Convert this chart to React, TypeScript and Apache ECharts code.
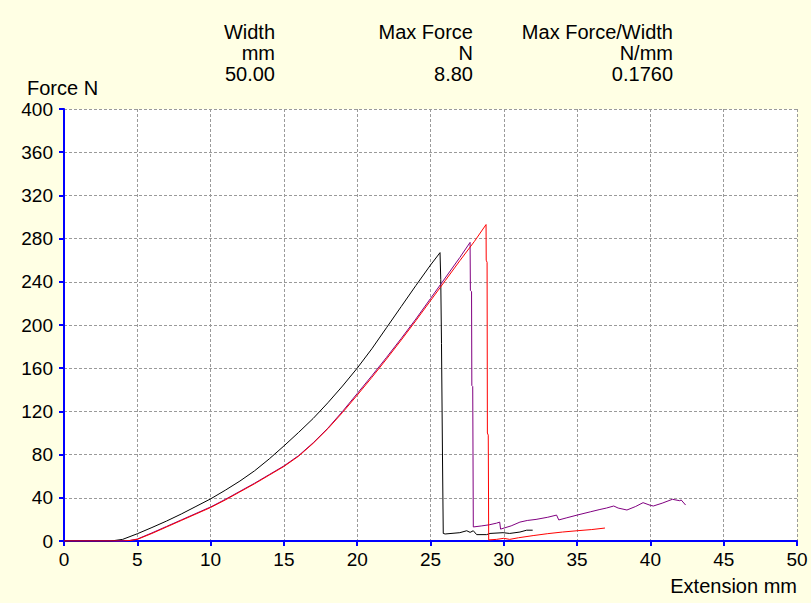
import React, { useEffect, useRef } from "react";
import * as echarts from "echarts";

// Header table
const headerTitles = ["Width", "Max Force", "Max Force/Width"];
const headerUnits = ["mm", "N", "N/mm"];
const headerValues = ["50.00", "8.80", "0.1760"];

// Axis settings
const xTickMin = 0;
const xTickMax = 50;
const xTickStep = 5;
const yTickMin = 0;
const yTickMax = 400;
const yTickStep = 40;

// Specimen curves [extension mm, force N]
const specimenBlack: [number, number][] = [
  [0, 0], [3.2, 0], [4, 1.5], [5, 6.7], [6, 12.5], [7, 18.5], [8, 25], [9, 32],
  [10, 39], [11, 47], [12, 55.5], [13, 65], [14, 76], [15, 88], [16, 100.5],
  [17, 113.5], [18, 128], [19, 143.5], [20, 160], [21, 178], [22, 197.5],
  [23, 217], [24, 236.5], [25, 255.5], [25.65, 267], [25.7, 242], [25.75, 183],
  [25.82, 75], [25.87, 7], [26.0, 6.5], [27.0, 7.7], [27.47, 9.5], [27.7, 8],
  [27.92, 9.5], [28.15, 5.9], [28.83, 5.9], [29.06, 7], [29.95, 7.7], [30.4, 7],
  [31.1, 8.3], [31.56, 10], [31.97, 10],
];

const specimenPurple: [number, number][] = [
  [0, 0], [4, 0], [4.5, 0.5], [5, 1.8], [6, 7.5], [7, 13.5], [8, 19.5], [9, 25.5],
  [10, 31.5], [11, 38.5], [12, 46], [13, 53.5], [14, 61.5], [15, 69.5], [16, 79],
  [17, 91], [18, 104.5], [19, 120], [20, 136.5], [21, 153], [22, 170], [23, 187.5],
  [24, 205.5], [25, 224.5], [26, 243.5], [27, 262.5], [27.7, 276.5], [27.72, 232],
  [27.8, 231], [27.82, 144], [27.88, 143], [27.92, 13], [28.5, 14], [29, 15],
  [29.5, 16.5], [29.72, 17.5], [29.78, 11], [30.5, 14], [31.1, 17.5], [31.6, 19],
  [32.2, 20], [33, 22], [33.6, 24], [33.75, 19.5], [34.3, 21.5], [35, 24],
  [35.9, 27], [36.5, 29], [37, 30.5], [37.5, 32.4], [37.8, 30.5], [38.4, 28.7],
  [39, 32], [39.5, 35.5], [40, 33], [40.2, 32.4], [40.8, 35], [41.5, 38.6],
  [42, 37.3], [42.1, 38], [42.4, 33.3],
];

const specimenRed: [number, number][] = [
  [0, 0], [4, 0], [4.5, 0.5], [5, 1.5], [6, 7], [7, 13], [8, 19], [9, 25],
  [10, 31], [11, 38], [12, 45.5], [13, 53], [14, 61], [15, 69], [16, 78.5],
  [17, 90.5], [18, 104], [19, 119], [20, 135], [21, 151.5], [22, 168.5],
  [23, 186], [24, 204], [25, 222.5], [26, 241], [27, 259.5], [28, 277.5],
  [28.79, 293], [28.8, 260], [28.86, 258], [28.88, 100], [28.94, 98],
  [28.97, 1], [29.5, 1.5], [30, 2.5], [30.4, 1.5], [31, 3], [32, 5], [33, 6.8],
  [34, 8.3], [35, 9.5], [36, 10.6], [36.9, 12],
];

const FONT = "'Liberation Sans', Arial, sans-serif";

export default function App() {
  const ref = useRef<HTMLDivElement>(null);

  useEffect(() => {
    document.body.style.margin = "0";
    const chart = echarts.init(ref.current!, undefined, { renderer: "svg" });

    const headerRight = [275, 473, 673];
    const headerRows = [headerTitles, headerUnits, headerValues];
    const headerY = [32, 53, 74];
    const graphics: any[] = [];
    headerRows.forEach((row, ri) => {
      row.forEach((t, ci) => {
        graphics.push({
          type: "text",
          x: headerRight[ci],
          y: headerY[ri],
          style: {
            text: t,
            fill: "#000",
            font: `20px ${FONT}`,
            textAlign: "right",
            textVerticalAlign: "middle",
          },
        });
      });
    });
    graphics.push({
      type: "text",
      x: 27,
      y: 88,
      style: {
        text: "Force N",
        fill: "#000",
        font: `20px ${FONT}`,
        textAlign: "left",
        textVerticalAlign: "middle",
      },
    });
    graphics.push({
      type: "text",
      x: 797,
      y: 586,
      style: {
        text: "Extension mm",
        fill: "#000",
        font: `20px ${FONT}`,
        textAlign: "right",
        textVerticalAlign: "middle",
      },
    });

    const mk = (data: [number, number][], color: string, z: number) => ({
      type: "line",
      data,
      showSymbol: false,
      symbol: "none",
      z,
      lineStyle: { color, width: 1 },
      silent: true,
    });

    chart.setOption({
      animation: false,
      backgroundColor: "#FFFFE4",
      grid: {
        left: 64,
        right: 14,
        top: 109,
        bottom: 62,
        show: true,
        backgroundColor: "#FFFFFF",
        borderWidth: 0,
      },
      xAxis: {
        type: "value",
        min: xTickMin,
        max: xTickMax,
        interval: xTickStep,
        axisLine: { show: true, onZero: false, lineStyle: { color: "#0000FF", width: 2 } },
        axisTick: { show: true, length: 5, lineStyle: { color: "#0000FF", width: 2 } },
        axisLabel: { color: "#000", fontSize: 19, fontFamily: FONT, margin: 9 },
        splitLine: { show: true, lineStyle: { color: "#9A9A9A", type: [3, 2], width: 1 } },
      },
      yAxis: {
        type: "value",
        min: yTickMin,
        max: yTickMax,
        interval: yTickStep,
        axisLine: { show: true, onZero: false, lineStyle: { color: "#0000FF", width: 2 } },
        axisTick: { show: true, length: 5, lineStyle: { color: "#0000FF", width: 2 } },
        axisLabel: { color: "#000", fontSize: 19, fontFamily: FONT, margin: 11 },
        splitLine: { show: true, lineStyle: { color: "#9A9A9A", type: [3, 2], width: 1 } },
      },
      series: [
        mk(specimenBlack, "#000000", 3),
        mk(specimenPurple, "#800080", 4),
        mk(specimenRed, "#FF0000", 5),
      ],
      graphic: graphics,
    });

    return () => chart.dispose();
  }, []);

  return (
    <div
      ref={ref}
      style={{ position: "absolute", left: 0, top: 0, width: 811, height: 603 }}
    />
  );
}
